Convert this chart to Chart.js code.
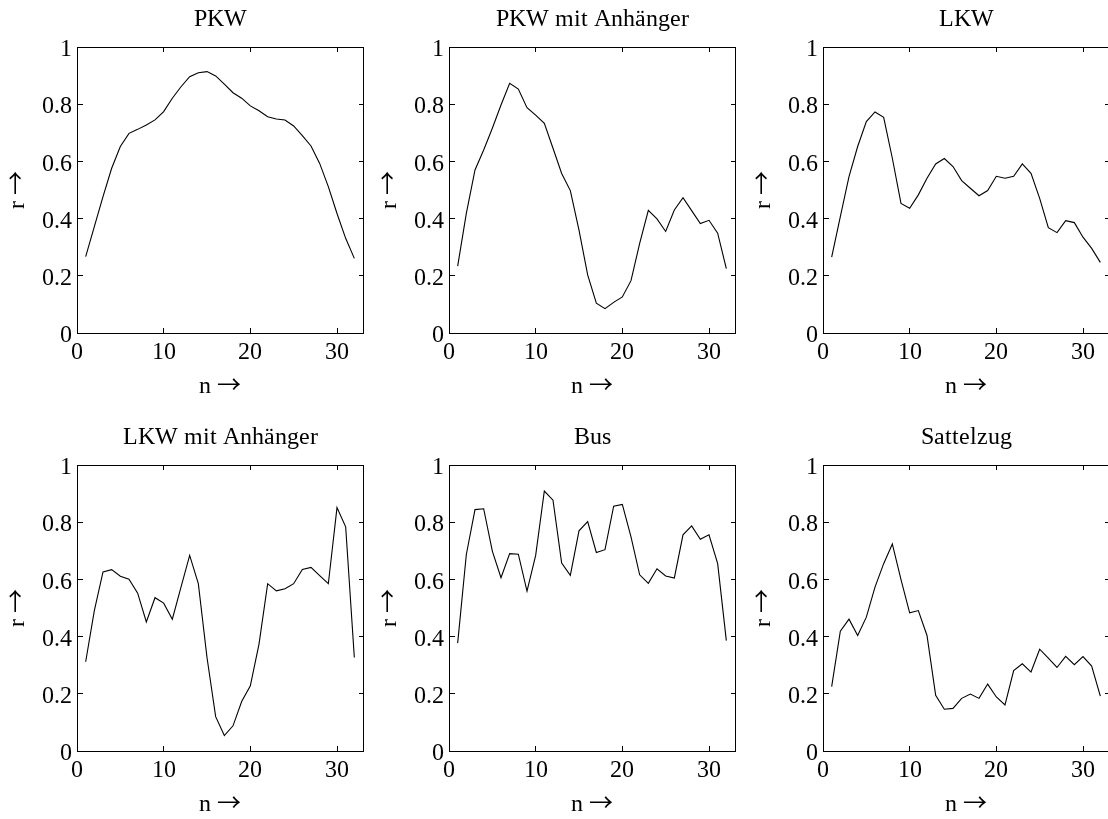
<!DOCTYPE html>
<html>
<head>
<meta charset="utf-8">
<script src="https://cdn.jsdelivr.net/npm/chart.js@4/dist/chart.umd.min.js"></script>
<style>
  @font-face { font-family: 'SerifArrow'; src: local('Liberation Serif'), local('LiberationSerif'); }
  @font-face { font-family: 'SerifArrow';
               src: local('Noto Sans CJK JP Regular'), local('NotoSansCJKjp-Regular'), local('Noto Sans CJK JP');
               unicode-range: U+2190-21FF; }
  html, body { margin: 0; padding: 0; background: #fff; overflow: hidden; }
  #wrap { position: relative; width: 1108px; height: 819px; background: #fff; overflow: hidden; }
  canvas { position: absolute; }
</style>
</head>
<body>
<div id="wrap"></div>
<script>
// ---- data ----
const n = [1,2,3,4,5,6,7,8,9,10,11,12,13,14,15,16,17,18,19,20,21,22,23,24,25,26,27,28,29,30,31,32];

const titles = ["PKW", "PKW mit Anhänger", "LKW", "LKW mit Anhänger", "Bus", "Sattelzug"];

const pkw = [0.267,0.372,0.477,0.576,0.652,0.698,0.712,0.727,0.745,0.774,0.821,0.861,0.896,0.910,0.914,0.899,
             0.870,0.840,0.821,0.794,0.777,0.756,0.748,0.745,0.724,0.690,0.654,0.593,0.512,0.418,0.331,0.261];
const pkwAnh = [0.234,0.418,0.570,0.640,0.716,0.797,0.873,0.853,0.788,0.762,0.733,0.646,0.558,0.498,0.360,0.203,
                0.104,0.085,0.107,0.126,0.183,0.313,0.429,0.399,0.355,0.430,0.473,0.428,0.383,0.394,0.349,0.225];
const lkw = [0.265,0.407,0.547,0.652,0.739,0.773,0.754,0.611,0.453,0.436,0.483,0.541,0.591,0.610,0.582,0.533,
             0.506,0.480,0.498,0.548,0.541,0.548,0.591,0.558,0.471,0.368,0.351,0.393,0.386,0.335,0.296,0.247];
const lkwAnh = [0.312,0.491,0.626,0.634,0.611,0.601,0.552,0.451,0.536,0.517,0.461,0.573,0.684,0.585,0.327,0.120,
                0.054,0.088,0.173,0.228,0.374,0.585,0.560,0.567,0.585,0.635,0.642,0.613,0.585,0.851,0.784,0.327];
const bus = [0.377,0.687,0.844,0.847,0.699,0.606,0.690,0.688,0.559,0.684,0.909,0.877,0.657,0.614,0.770,0.802,
             0.694,0.704,0.856,0.862,0.749,0.616,0.586,0.637,0.612,0.605,0.756,0.787,0.740,0.756,0.655,0.386];
const sattelzug = [0.225,0.419,0.461,0.404,0.468,0.573,0.655,0.724,0.599,0.483,0.491,0.404,0.195,0.146,0.149,0.184,
                   0.199,0.184,0.234,0.189,0.161,0.281,0.305,0.276,0.356,0.325,0.292,0.331,0.302,0.330,0.297,0.192];

const xTickLabels = ["0", "10", "20", "30"];
const yTickLabels = ["0", "0.2", "0.4", "0.6", "0.8", "1"];
const xLabel = "n →";
const yLabel = "r →";

// ---- layout ----
const series = [pkw, pkwAnh, lkw, lkwAnh, bus, sattelzug];
const colLeft = [77, 449, 823];
const rowTop = [47, 465];
const PLOT = 286;
const PADL = 77, PADT = 47, PADR = 77, PADB = 70;
const FONT = "SerifArrow, 'Liberation Serif', 'Times New Roman', Times, serif";

const framePlugin = {
  id: 'frame',
  afterDraw(chart) {
    const a = chart.chartArea, ctx = chart.ctx;
    ctx.save();
    ctx.strokeStyle = '#000';
    ctx.lineWidth = 1;
    ctx.beginPath();
    ctx.rect(Math.round(a.left) + 0.5, Math.round(a.top) + 0.5,
             Math.round(a.right) - Math.round(a.left), Math.round(a.bottom) - Math.round(a.top));
    ctx.stroke();
    ctx.restore();
  }
};

function build() {
  const wrap = document.getElementById('wrap');
  series.forEach((vals, i) => {
    const c = i % 3, r = Math.floor(i / 3);
    const cv = document.createElement('canvas');
    const W = PADL + PLOT + PADR, H = PADT + PLOT + PADB;
    cv.width = W; cv.height = H;
    cv.style.width = W + 'px'; cv.style.height = H + 'px';
    cv.style.left = (colLeft[c] - PADL) + 'px';
    cv.style.top = (rowTop[r] - PADT) + 'px';
    wrap.appendChild(cv);

    const font = { family: FONT, size: 24, weight: 'normal', lineHeight: 1.2 };

    new Chart(cv.getContext('2d'), {
      type: 'line',
      data: {
        datasets: [{
          data: n.map((x, k) => ({ x: x, y: vals[k] })),
          borderColor: '#000',
          borderWidth: 1.1,
          pointRadius: 0,
          tension: 0,
          fill: false
        }]
      },
      options: {
        responsive: false,
        animation: false,
        devicePixelRatio: 1,
        layout: { padding: 0 },
        plugins: {
          legend: { display: false },
          tooltip: { enabled: false },
          title: {
            display: true,
            text: titles[i],
            color: '#000',
            font: font,
            padding: { top: 5.6, bottom: 12.6 }
          }
        },
        scales: {
          x: {
            type: 'linear',
            min: 0, max: 33,
            afterFit: (s) => { s.height = PADB; },
            ticks: {
              stepSize: 10, includeBounds: false, autoSkip: false, maxRotation: 0,
              padding: 5, color: '#000', font: font,
              callback: (v, idx) => xTickLabels[idx]
            },
            grid: { color: '#000', lineWidth: 1, drawTicks: false },
            border: { color: '#000', width: 1, dash: [5, PLOT - 10] },
            title: { display: true, text: xLabel, color: '#000', font: font, padding: { top: 0, bottom: 1.6 } }
          },
          y: {
            min: 0, max: 1,
            afterFit: (s) => { s.width = PADL; },
            ticks: {
              stepSize: 0.2, autoSkip: false, padding: 5, labelOffset: 3,
              color: '#000', font: font,
              callback: (v, idx) => yTickLabels[idx]
            },
            grid: { color: '#000', lineWidth: 1, drawTicks: false },
            border: { color: '#000', width: 1, dash: [5, PLOT - 10] },
            title: { display: true, text: yLabel, color: '#000', font: font, padding: { top: 3, bottom: 0 } }
          },
          yR: {
            position: 'right',
            min: 0, max: 1,
            afterFit: (s) => { s.width = PADR; },
            ticks: { display: false },
            grid: { display: false, drawTicks: false },
            border: { display: true, color: '#000', width: 1 }
          }
        }
      },
      plugins: [framePlugin]
    });
  });
}

let built = false;
function go() { if (!built) { built = true; build(); } }
if (document.fonts && document.fonts.load) {
  document.fonts.load("24px SerifArrow", "n →ä").then(go, go);
  setTimeout(go, 1500);
} else {
  go();
}
</script>
</body>
</html>
